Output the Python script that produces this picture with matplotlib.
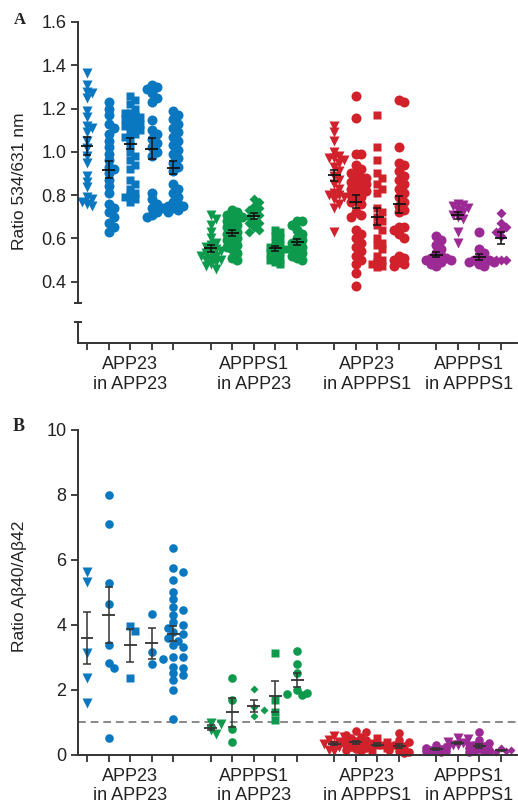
import numpy as np
import matplotlib.pyplot as plt
from matplotlib.transforms import blended_transform_factory

plt.rcParams['font.family'] = ['Liberation Sans', 'DejaVu Sans']

W, H = 518, 807

groups = ['APP23\nin APP23', 'APPPS1\nin APP23', 'APP23\nin APPPS1', 'APPPS1\nin APPPS1']
group_colors = ['#0a78c0', '#0e9a4c', '#d1222c', '#9b2a95']
group_markers = [['v', 'o', 's', 'o', 'o'],
                 ['v', 'o', 'D', 's', 'o'],
                 ['v', 'o', 's', 'o'],
                 ['o', 'v', 'o', 'D']]

# Panel A: ratio 534/631 nm, one list per animal
a_app23_in_app23 = [
    [1.364, 1.308, 1.276, 1.27, 1.25, 1.19, 1.16, 1.12, 1.11, 1.09, 1.05, 1.016, 0.98,
     0.95, 0.89, 0.86, 0.835, 0.79, 0.78, 0.77, 0.76, 0.75],
    [1.23, 1.2, 1.17, 1.13, 1.11, 1.08, 1.05, 1.02, 0.99, 0.96, 0.93, 0.92, 0.90, 0.87,
     0.84, 0.81, 0.76, 0.74, 0.72, 0.70, 0.67, 0.65, 0.63],
    [1.26, 1.24, 1.22, 1.2, 1.18, 1.18, 1.17, 1.16, 1.15, 1.15, 1.14, 1.13, 1.12, 1.12,
     1.11, 1.1, 1.09, 1.08, 1.07, 1.06, 1.03, 1.0, 0.98, 0.96, 0.94, 0.92, 0.87, 0.85,
     0.83, 0.81, 0.80, 0.79, 0.78, 0.77],
    [1.31, 1.3, 1.29, 1.27, 1.25, 1.23, 1.145, 1.1, 1.08, 1.06, 1.04, 1.02, 1.0, 0.98,
     0.81, 0.78, 0.76, 0.74, 0.72, 0.71, 0.7],
    [1.19, 1.17, 1.15, 1.13, 1.11, 1.09, 1.07, 1.05, 1.03, 1.01, 0.99, 0.97, 0.95, 0.93,
     0.91, 0.85, 0.83, 0.81, 0.79, 0.77, 0.76, 0.75, 0.75, 0.74, 0.74, 0.73, 0.72],
]
a_appps1_in_app23 = [
    [0.71, 0.69, 0.66, 0.63, 0.6, 0.58, 0.57, 0.56, 0.55, 0.54, 0.54, 0.53, 0.52, 0.52,
     0.51, 0.5, 0.5, 0.49, 0.48, 0.47, 0.46],
    [0.73, 0.72, 0.71, 0.7, 0.7, 0.69, 0.68, 0.67, 0.66, 0.65, 0.64, 0.63, 0.62, 0.61,
     0.6, 0.59, 0.58, 0.57, 0.56, 0.55, 0.53, 0.51, 0.5],
    [0.78, 0.77, 0.75, 0.74, 0.73, 0.72, 0.71, 0.70, 0.68, 0.67, 0.67, 0.65, 0.64, 0.63],
    [0.64, 0.63, 0.61, 0.6, 0.58, 0.57, 0.56, 0.55, 0.55, 0.54, 0.53, 0.52, 0.51, 0.5,
     0.49, 0.48],
    [0.68, 0.68, 0.66, 0.64, 0.62, 0.6, 0.59, 0.58, 0.57, 0.56, 0.55, 0.54, 0.53, 0.52,
     0.51, 0.5],
]
a_app23_in_appps1 = [
    [1.12, 1.09, 1.05, 1.0, 0.98, 0.97, 0.97, 0.96, 0.95, 0.93, 0.91, 0.89, 0.87, 0.85,
     0.83, 0.81, 0.8, 0.8, 0.79, 0.78, 0.76, 0.74, 0.63],
    [1.257, 1.155, 0.99, 0.99, 0.94, 0.92, 0.9, 0.9, 0.88, 0.88, 0.87, 0.86, 0.85, 0.85,
     0.84, 0.83, 0.82, 0.82, 0.81, 0.8, 0.79, 0.78, 0.77, 0.76, 0.72, 0.71, 0.70, 0.64,
     0.62, 0.6, 0.58, 0.56, 0.54, 0.52, 0.5, 0.48, 0.44, 0.38],
    [1.17, 1.02, 0.96, 0.9, 0.88, 0.85, 0.83, 0.81, 0.74, 0.72, 0.7, 0.68, 0.66, 0.64,
     0.6, 0.58, 0.57, 0.55, 0.52, 0.5, 0.49, 0.48, 0.47, 0.465],
    [1.24, 1.23, 1.02, 0.95, 0.94, 0.91, 0.89, 0.87, 0.85, 0.83, 0.81, 0.79, 0.77, 0.75,
     0.73, 0.72, 0.65, 0.65, 0.64, 0.62, 0.6, 0.52, 0.51, 0.5, 0.49, 0.48, 0.47],
]
a_appps1_in_appps1 = [
    [0.61, 0.59, 0.57, 0.55, 0.53, 0.52, 0.51, 0.51, 0.5, 0.5, 0.5, 0.49, 0.48, 0.47],
    [0.76, 0.755, 0.75, 0.74, 0.73, 0.72, 0.71, 0.7, 0.69, 0.63, 0.58],
    [0.63, 0.55, 0.53, 0.51, 0.5, 0.5, 0.5, 0.49, 0.49, 0.48, 0.47],
    [0.715, 0.67, 0.65, 0.64, 0.63, 0.61, 0.5, 0.5, 0.5],
]

# Panel B: ratio Abeta40/Abeta42
b_app23_in_app23 = [
    [5.62, 5.31, 3.12, 2.35, 1.57],
    [8.0, 7.1, 5.27, 4.63, 3.36, 2.81, 2.66, 0.52],
    [3.95, 3.8, 2.35],
    [4.32, 3.15, 2.78],
    [6.36, 5.74, 5.62, 5.37, 5.0, 4.8, 4.55, 4.44, 4.3, 4.08, 4.0, 3.9, 3.77, 3.7, 3.6,
     3.5, 3.36, 3.3, 3.0, 3.0, 2.95, 2.7, 2.65, 2.5, 2.45, 2.3, 2.0, 1.1],
]
b_appps1_in_app23 = [
    [0.97, 0.95, 0.75, 0.62],
    [2.35, 1.68, 0.8, 0.37],
    [2.03, 1.46, 1.36, 1.17],
    [3.12, 1.67, 1.3, 1.05],
    [3.2, 2.8, 2.5, 1.97, 1.9, 1.85, 1.82],
]
b_app23_in_appps1 = [
    [0.58, 0.55, 0.45, 0.38, 0.32, 0.3, 0.28, 0.22, 0.15, 0.12],
    [0.72, 0.68, 0.6, 0.55, 0.5, 0.45, 0.42, 0.4, 0.38, 0.35, 0.32, 0.3, 0.28, 0.25,
     0.22, 0.2, 0.18, 0.15, 0.12],
    [0.5, 0.4, 0.35, 0.3, 0.28, 0.25, 0.2, 0.15],
    [0.66, 0.45, 0.38, 0.3, 0.25, 0.15, 0.1, 0.08, 0.05],
]
b_appps1_in_appps1 = [
    [0.3, 0.22, 0.2, 0.18, 0.15, 0.14, 0.12, 0.1, 0.08],
    [0.52, 0.48, 0.4, 0.35, 0.3, 0.28, 0.25, 0.2],
    [0.68, 0.45, 0.35, 0.3, 0.25, 0.2, 0.18, 0.15, 0.12, 0.1, 0.08],
    [0.2, 0.15, 0.12, 0.1, 0.08],
]

panel_a = [a_app23_in_app23, a_appps1_in_app23, a_app23_in_appps1, a_appps1_in_appps1]
panel_b = [b_app23_in_app23, b_appps1_in_app23, b_app23_in_appps1, b_appps1_in_appps1]

GAP = 1.72
XPX = 21.6  # pixels per column unit
XLIM = (-0.44, 19.9)


def column_positions():
    pos, start = [], 0.0
    for g in group_markers:
        pos.append([start + i for i in range(len(g))])
        start += len(g) - 1 + GAP
    return pos


def swarm(vals, ypx, dmin, step, maxk=4):
    # simple column scatter: nudge points sideways when they would overlap
    vals = np.asarray(vals, float)
    order = np.argsort(-vals, kind='stable')
    cands = [0]
    for k in range(1, maxk + 1):
        cands += [k, -k]
    placed, offs = [], np.zeros(len(vals))
    for i in order:
        y = vals[i] * ypx
        best, best_d = 0, -1
        for k in cands:
            x = k * step
            d = min([np.hypot(x - px, y - py) for px, py in placed] or [1e9])
            if d >= dmin:
                best = x
                break
            if d > best_d + 0.5:
                best, best_d = x, d
        placed.append((best, y))
        offs[i] = best / XPX
    return offs


def draw_panel(ax, data, ypx, msize, dmin, step, maxk, ecolor):
    positions = column_positions()
    for g, cols in enumerate(data):
        for c, vals in enumerate(cols):
            x0 = positions[g][c]
            mk = group_markers[g][c]
            ms = msize * {'o': 1.0, 'v': 1.05, 's': 0.85, 'D': 0.72}[mk]
            offs = swarm(vals, ypx, dmin, step, maxk)
            ax.plot(x0 + offs, vals, linestyle='none', marker=mk, ms=ms,
                    color=group_colors[g], mec='none', clip_on=False, zorder=2)
            v = np.asarray(vals)
            m = v.mean()
            sem = v.std(ddof=1) / np.sqrt(len(v))
            ax.hlines(m, x0 - 0.3, x0 + 0.3, color=ecolor, lw=1.3, zorder=3)
            ax.errorbar([x0], [m], yerr=[sem], fmt='none', ecolor=ecolor,
                        elinewidth=1.1, capsize=2.6, capthick=1.1, zorder=3)
    flat = [p for g in positions for p in g]
    centers = [np.mean(g) for g in positions]
    ax.xaxis.remove_overlapping_locs = False
    ax.set_xticks(flat)
    ax.set_xticklabels([''] * len(flat))
    ax.set_xticks(centers, minor=True)
    ax.set_xticklabels(groups, minor=True, fontsize=13, color='#222222')
    ax.tick_params(axis='x', which='major', length=5, width=1.3, color='#333333')
    ax.tick_params(axis='x', which='minor', length=0, pad=9.5)
    ax.tick_params(axis='y', length=5, width=1.3, color='#333333', labelsize=13,
                   labelcolor='#222222', pad=3)
    ax.set_xlim(*XLIM)
    for s in ['top', 'right']:
        ax.spines[s].set_visible(False)
    for s in ['left', 'bottom']:
        ax.spines[s].set_linewidth(1.4)
        ax.spines[s].set_color('#333333')


fig = plt.figure(figsize=(W / 100, H / 100), dpi=100)

# Panel A
axw = (517 - 77.5) / W
ax1 = fig.add_axes([77.5 / W, 1 - 343 / H, axw, 321 / H])
ya0 = 0.4 - (343 - 281.7) / 215.8
ax1.set_ylim(ya0, 1.6)
draw_panel(ax1, panel_a, 215.8, 7.2, 4.5, 5.0, 4, '#111111')
ax1.set_yticks([0.4, 0.6, 0.8, 1.0, 1.2, 1.4, 1.6])
ax1.set_yticklabels(['0.4', '0.6', '0.8', '1.0', '1.2', '1.4', '1.6'])
ax1.spines['left'].set_bounds(0.3, 1.6)
tr = blended_transform_factory(ax1.transAxes, ax1.transData)
ax1.plot([0, 0], [ya0, 0.213], color='#333333', lw=1.4, transform=tr, clip_on=False)
ax1.plot([0, 0], [0.3, 0.213], linestyle='none', marker='_', ms=6, mew=1.4,
         color='#333333', transform=tr, clip_on=False)

# Panel B
ax2 = fig.add_axes([77.5 / W, 1 - 754.5 / H, axw, 325 / H])
ax2.set_ylim(0, 10)
ax2.axhline(1, color='#888888', lw=1.4, ls=(0, (4, 2.5)), zorder=1)
draw_panel(ax2, panel_b, 32.5, 6.2, 6.5, 5.0, 2, '#333333')
ax2.set_yticks([0, 2, 4, 6, 8, 10])

fig.text(20 / W, 1 - 181 / H, 'Ratio 534/631 nm', rotation=90, ha='center',
         va='center', fontsize=12.5, color='#222222')
fig.text(20 / W, 1 - 586 / H, 'Ratio A\u03b240/A\u03b242', rotation=90, ha='center',
         va='center', fontsize=12.5, color='#222222')
fig.text(20 / W, 1 - 20 / H, 'A', ha='center', va='center', fontsize=12,
         fontweight='bold', family='Liberation Serif', color='#222222')
fig.text(19 / W, 1 - 427 / H, 'B', ha='center', va='center', fontsize=13,
         fontweight='bold', family='Liberation Serif', color='#222222')

fig.savefig('out.png', dpi=100)
